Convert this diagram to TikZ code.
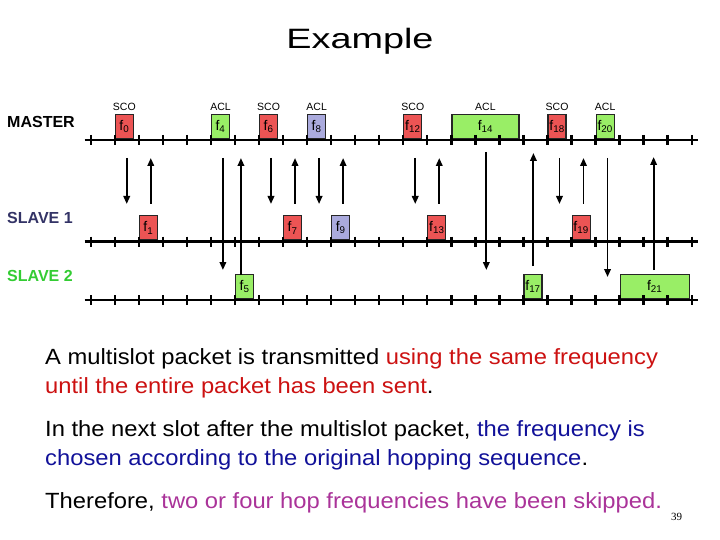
\documentclass[tikz,border=0pt]{standalone}
\usepackage{fontspec}
\setmainfont{Liberation Sans}
\newfontfamily\titlefont[FakeStretch=1.35]{Liberation Sans}
\newfontfamily\bodyfont[FakeStretch=1.08]{Liberation Sans}
\newfontfamily\pagefont{Liberation Serif}
\usetikzlibrary{arrows.meta,positioning}
\definecolor{scored}{RGB}{236,84,84}
\definecolor{aclgreen}{RGB}{153,238,102}
\definecolor{acllav}{RGB}{170,170,221}
\definecolor{slaveone}{RGB}{51,51,102}
\definecolor{slavetwo}{RGB}{51,204,51}
\definecolor{txtred}{RGB}{204,17,17}
\definecolor{txtblue}{RGB}{17,17,153}
\definecolor{txtpurple}{RGB}{170,51,153}
\newcommand{\fq}[1]{f\textsubscript{#1}}

\begin{document}
\begin{tikzpicture}[x=1pt,y=-1pt,
  axis/.style={line width=2.6pt},
  tick/.style={line width=2.4pt},
  pkt/.style={draw=black!85,line width=1.2pt,minimum width=18pt,minimum height=24pt,
              inner sep=0pt,anchor=south west,font=\fontsize{14}{14}\selectfont},
  sco/.style={pkt,fill=scored},
  aclg/.style={pkt,fill=aclgreen},
  aclb/.style={pkt,fill=acllav},
  kind/.style={font=\fontsize{10.5}{10.5}\selectfont,inner sep=1pt,label distance=2pt},
  who/.style={font=\fontsize{16}{16}\selectfont\bfseries,anchor=west,inner sep=0pt},
  para/.style={font=\bodyfont\fontsize{22}{22}\selectfont,anchor=base west,inner sep=0pt},
  arr/.style={-{Triangle[length=8pt,width=6.5pt]},line width=1.9pt}]
\useasboundingbox (0,0) rectangle (720,540);
\node[font=\titlefont\fontsize{28}{28}\selectfont,anchor=base] (title) at (360,49) {Example};

% ticks and arrow ends
\foreach \i in {0,...,25} {
  \coordinate (M\i) at ({90.7+24.04*\i},140);
  \coordinate (S\i) at ({90.7+24.04*\i},241.5);
  \coordinate (T\i) at ({90.7+24.04*\i},300);
  \coordinate (m\i) at ({102.7+24.04*\i},158);
  \coordinate (s\i) at ({102.7+24.04*\i},204);
  \coordinate (t\i) at ({102.7+24.04*\i},270);
}

\node[who] (master) at (7,122) {MASTER};
\node[who,text=slaveone] (slave1) at (7,218) {SLAVE 1};
\node[who,text=slavetwo] (slave2) at (7,276) {SLAVE 2};

% master
\node[sco,label={[kind]above:SCO}] (f0) at ([yshift=1pt]M1) {\fq{0}};
\node[aclg,label={[kind]above:ACL}] (f4) at ([yshift=1pt]M5) {\fq{4}};
\node[sco,label={[kind]above:SCO}] (f6) at ([yshift=1pt]M7) {\fq{6}};
\node[aclb,label={[kind]above:ACL}] (f8) at ([yshift=1pt]M9) {\fq{8}};
\node[sco,label={[kind]above:SCO}] (f12) at ([yshift=1pt]M13) {\fq{12}};
\node[aclg,minimum width=67pt,label={[kind]above:ACL}] (f14) at ([yshift=1pt]M15) {\fq{14}};
\node[sco,label={[kind]above:SCO}] (f18) at ([yshift=1pt]M19) {\fq{18}};
\node[aclg,label={[kind]above:ACL}] (f20) at ([yshift=1pt]M21) {\fq{20}};
% slave 1
\node[sco] (f1) at ([yshift=1pt]S2) {\fq{1}};
\node[sco] (f7) at ([yshift=1pt]S8) {\fq{7}};
\node[aclb] (f9) at ([yshift=1pt]S10) {\fq{9}};
\node[sco] (f13) at ([yshift=1pt]S14) {\fq{13}};
\node[sco] (f19) at ([yshift=1pt]S20) {\fq{19}};
% slave 2
\node[aclg] (f5) at ([yshift=1pt]T6) {\fq{5}};
\node[aclg] (f17) at ([yshift=1pt]T18) {\fq{17}};
\node[aclg,minimum width=69pt] (f21) at ([yshift=1pt]T22) {\fq{21}};

\foreach \n in {M,S,T} {
  \draw[axis] ([xshift=-6pt]\n0) -- ([xshift=6pt]\n25);
  \foreach \i in {0,...,25}
    \draw[tick] ([yshift=5pt]\n\i) -- ([yshift=-5pt]\n\i);
}

\draw[arr] (m1) -- (s1);
\draw[arr] (s2) -- (m2);
\draw[arr] (m5) -- (t5);
\draw[arr] ([xshift=-6pt,yshift=-5pt]t6) -- ([xshift=-6pt]m6);
\draw[arr] (m7) -- (s7);
\draw[arr] (s8) -- (m8);
\draw[arr] (m9) -- (s9);
\draw[arr] (s10) -- (m10);
\draw[arr] (m13) -- (s13);
\draw[arr] (s14) -- (m14);
\draw[arr] ([xshift=-1pt,yshift=6pt]m16) -- ([xshift=-1pt]t16);
\draw[arr] ([xshift=-2pt,yshift=4pt]t18) -- ([xshift=-2pt,yshift=5pt]m18);
\draw[arr] (m19) -- (s19);
\draw[arr] (s20) -- (m20);
\draw[arr] (m21) -- ([yshift=-7pt]t21);
\draw[arr] ([xshift=-2pt]t23) -- ([xshift=-2pt,yshift=1pt]m23);

\node[para] (p1a) at (45,364) {A multislot packet is transmitted \textcolor{txtred}{using the same frequency}};
\node[para] (p1b) at (45,393) {\textcolor{txtred}{until the entire packet has been sent}.};
\node[para] (p2a) at (45,436) {In the next slot after the multislot packet, \textcolor{txtblue}{the frequency is}};
\node[para] (p2b) at (45,465) {\textcolor{txtblue}{chosen according to the original hopping sequence}.};
\node[para] (p3) at (45,508) {Therefore, \textcolor{txtpurple}{two or four hop frequencies have been skipped.}};
\node[font=\pagefont\fontsize{11}{11}\selectfont,anchor=base west,inner sep=0pt] (page) at (671,520) {39};
\end{tikzpicture}
\end{document}
